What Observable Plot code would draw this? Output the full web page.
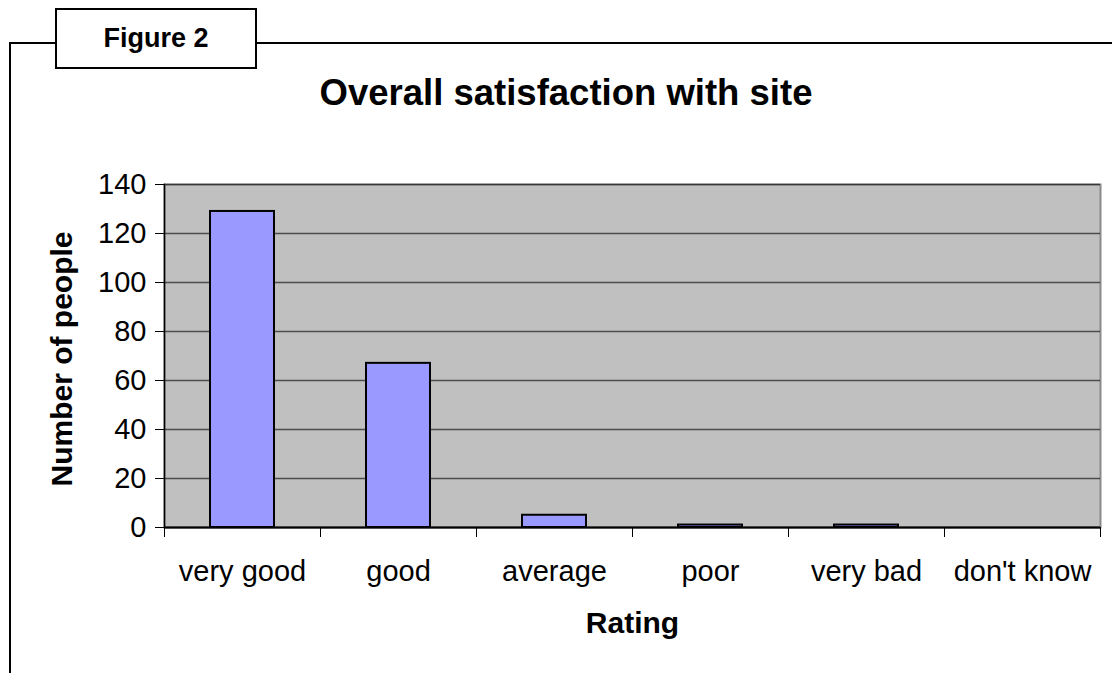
<!DOCTYPE html>
<html><head><meta charset="utf-8">
<script src="https://cdn.jsdelivr.net/npm/d3@7"></script>
<script src="https://cdn.jsdelivr.net/npm/@observablehq/plot@0.6"></script>
<style>
body{margin:0;background:#fff;font-family:"Liberation Sans",Arial,sans-serif;}
#wrap{position:relative;width:1112px;height:673px;overflow:hidden;background:#fff;}
#chart{position:absolute;left:0;top:0;}
.ln{position:absolute;background:#000;}
#figbox{position:absolute;left:55px;top:8px;width:198px;height:57px;border:2px solid #000;background:#fff;
 display:flex;align-items:center;justify-content:center;font-weight:bold;font-size:27px;}
#title{position:absolute;left:0;width:1132px;top:72px;text-align:center;font-weight:bold;font-size:36.5px;}
</style></head><body>
<div id="wrap">
  <div class="ln" style="left:9px;top:42px;width:2px;height:640px;"></div>
  <div class="ln" style="left:9px;top:42px;width:1110px;height:2px;"></div>
  <div id="figbox">Figure 2</div>
  <div id="chart"></div>
  <div id="title">Overall satisfaction with site</div>
</div>
<script>
const categories = ["very good", "good", "average", "poor", "very bad", "don't know"];
const counts = [129, 67, 5, 1, 1, 0];
const yTicks = [0, 20, 40, 60, 80, 100, 120, 140];
const yLabel = "Number of people";
const xLabel = "Rating";

const data = categories.map((c, i) => ({rating: c, count: counts[i]}));

const chart = Plot.plot({
  width: 1112, height: 673,
  marginLeft: 164, marginRight: 12, marginTop: 184, marginBottom: 146,
  style: {fontFamily: "'Liberation Sans', Arial, sans-serif", fontSize: "29px", color: "#000", background: "transparent", overflow: "visible"},
  x: {domain: categories, padding: 0},
  y: {domain: [0, 140]},
  marks: [
    Plot.frame({fill: "#C0C0C0", stroke: "#8a8a8a", strokeWidth: 2}),
    Plot.gridY(yTicks, {stroke: "#000", strokeOpacity: 0.6, strokeWidth: 1.5}),
    Plot.barY(data, {x: "rating", y: "count", fill: "#9999FF", stroke: "#000", strokeWidth: 2, insetLeft: 46, insetRight: 46}),
    Plot.frame({anchor: "left", stroke: "#000", strokeWidth: 1.5}),
    Plot.ruleY([0], {stroke: "#000", strokeWidth: 2}),
    Plot.axisY(yTicks, {tickSize: 9, tickPadding: 9, label: null, fontSize: 29, stroke: "#000"}),
    Plot.axisX({tickSize: 0, tickPadding: 33, label: null, fontSize: 29}),
    Plot.axisX({tickSize: 10, tickFormat: () => "", label: null, dx: -78, stroke: "#000"}),
    Plot.axisX([categories[categories.length - 1]], {tickSize: 10, tickFormat: () => "", label: null, dx: 78, stroke: "#000"}),
    Plot.text([yLabel], {text: d => d, frameAnchor: "left", textAnchor: "middle", dx: -102, dy: 3, rotate: -90, fontWeight: "bold", fontSize: 30}),
    Plot.text([xLabel], {text: d => d, frameAnchor: "bottom", dy: 105, fontWeight: "bold", fontSize: 30})
  ]
});
document.getElementById("chart").appendChild(chart);
</script>
</body></html>
